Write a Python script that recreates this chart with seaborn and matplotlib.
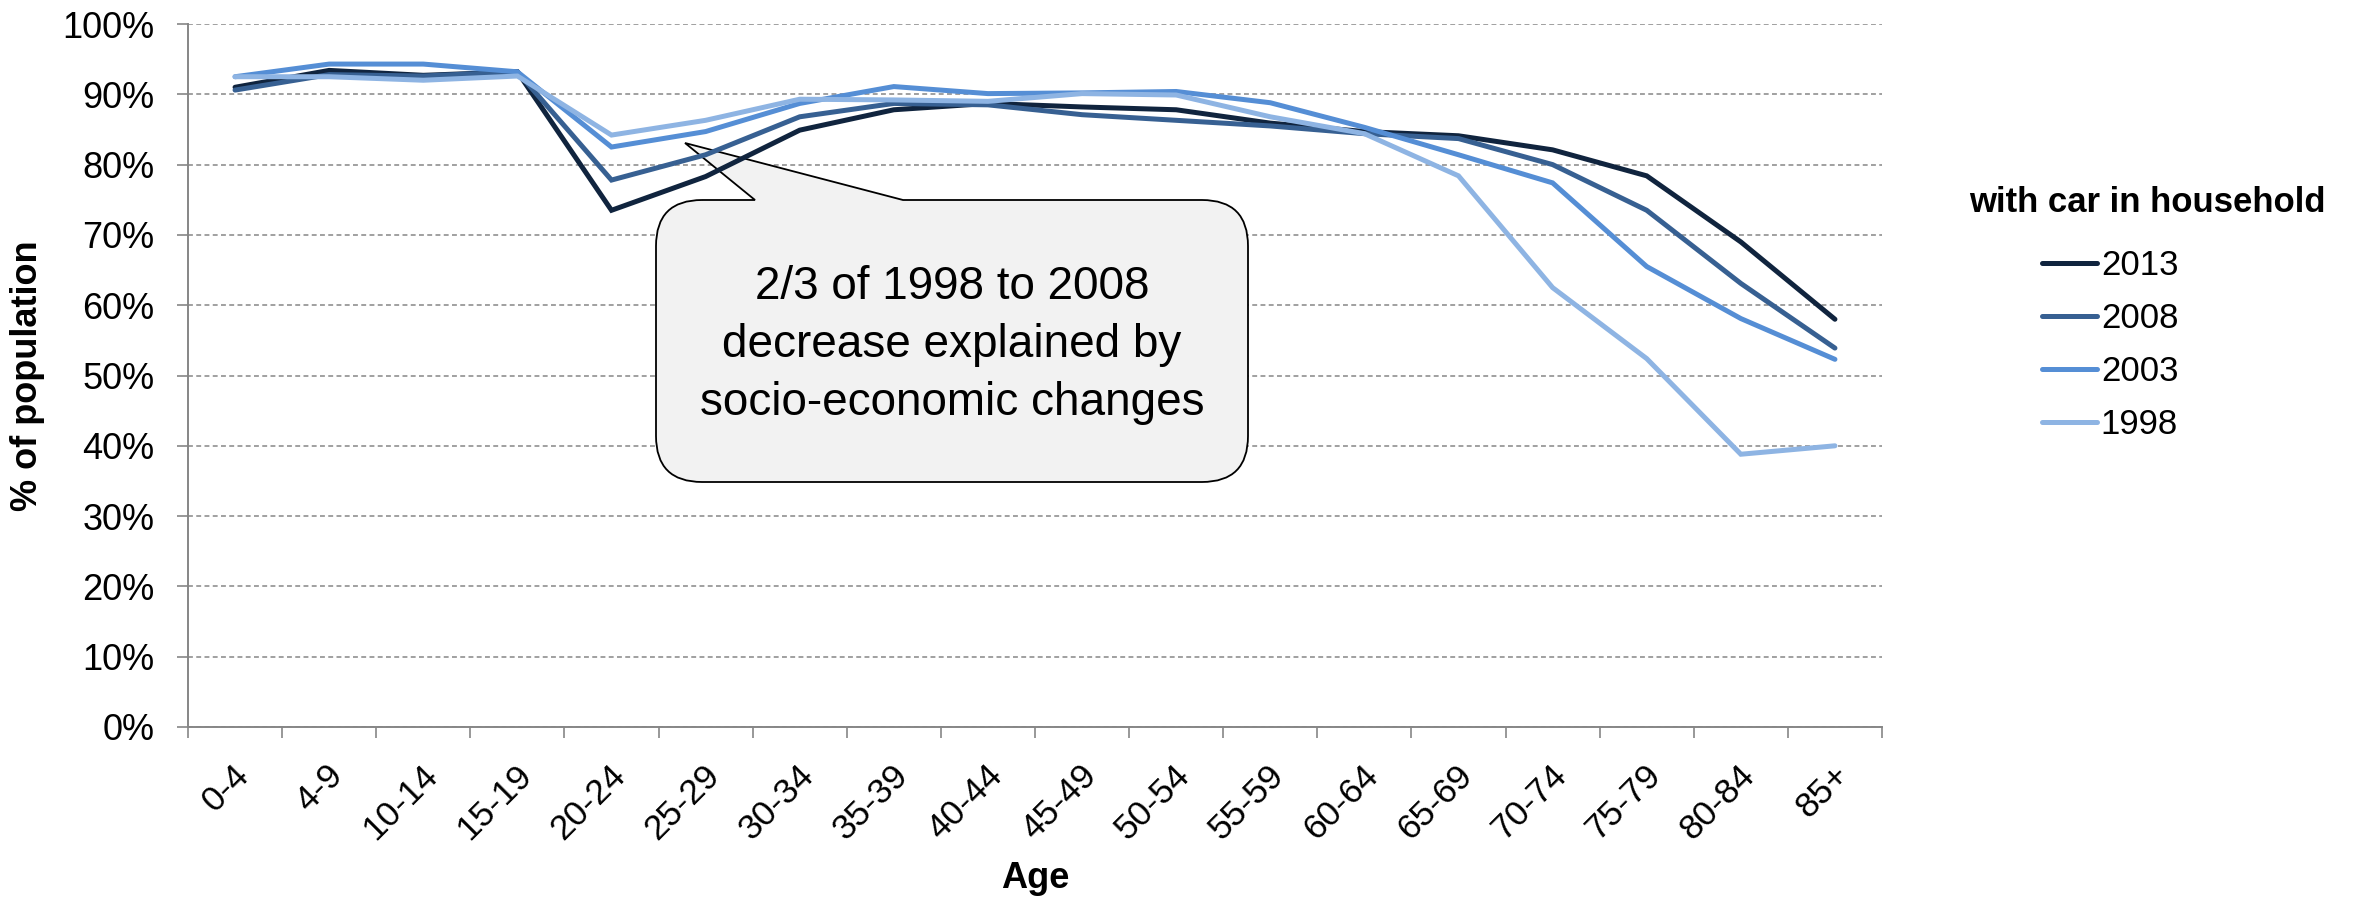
import matplotlib
matplotlib.use("Agg")
import matplotlib.pyplot as plt
import matplotlib.transforms as mtransforms
from matplotlib.path import Path
from matplotlib.patches import PathPatch
from matplotlib.ticker import FixedLocator, PercentFormatter
import numpy as np
import pandas as pd
import seaborn as sns

# ---- data ----
age_groups = ["0-4", "4-9", "10-14", "15-19", "20-24", "25-29", "30-34", "35-39",
              "40-44", "45-49", "50-54", "55-59", "60-64", "65-69", "70-74", "75-79",
              "80-84", "85+"]
years = ["2013", "2008", "2003", "1998"]
pct_2013 = [91.0, 93.4, 92.7, 93.2, 73.5, 78.3, 84.9, 87.8, 88.7, 88.2, 87.8, 85.9,
            84.7, 84.1, 82.1, 78.4, 69.0, 58.0]
pct_2008 = [90.6, 92.8, 92.6, 93.2, 77.8, 81.4, 86.8, 88.7, 88.5, 87.1, 86.3, 85.5,
            84.4, 83.7, 80.0, 73.5, 63.1, 53.9]
pct_2003 = [92.5, 94.3, 94.3, 93.2, 82.5, 84.7, 88.7, 91.1, 90.1, 90.2, 90.4, 88.8,
            85.3, 81.4, 77.4, 65.5, 58.1, 52.3]
pct_1998 = [92.5, 92.5, 92.0, 92.6, 84.2, 86.3, 89.3, 89.2, 89.0, 90.1, 89.9, 86.8,
            84.4, 78.4, 62.5, 52.4, 38.8, 40.0]
y_ticks = [0, 10, 20, 30, 40, 50, 60, 70, 80, 90, 100]
legend_title = "with car in household"
callout_text = "2/3 of 1998 to 2008\ndecrease explained by\nsocio-economic changes"

colors = {"2013": "#10243E", "2008": "#376092", "2003": "#558ED5", "1998": "#8EB4E3"}
axis_grey = "#868686"

df = pd.concat([
    pd.DataFrame({"age": age_groups, "pct": vals, "year": yr})
    for yr, vals in zip(years, [pct_2013, pct_2008, pct_2003, pct_1998])
], ignore_index=True)

sns.set_style("white")
plt.rcParams["font.family"] = ["Liberation Sans", "DejaVu Sans"]
plt.rcParams["text.color"] = "black"
plt.rcParams["axes.labelcolor"] = "black"

W, H = 2355, 899
fig = plt.figure(figsize=(W / 100, H / 100), dpi=100)
ax = fig.add_axes([188 / W, 1 - 727 / H, (1882 - 188) / W, (727 - 24) / H])

sns.lineplot(data=df, x="age", y="pct", hue="year", hue_order=years, palette=colors,
             sort=False, linewidth=3.6, ax=ax, zorder=5, legend=False)
for ln in ax.get_lines():
    ln.set_solid_capstyle("round")
    ln.set_solid_joinstyle("miter")

ax.set_xlim(-0.5, len(age_groups) - 0.5)
ax.set_ylim(0, 100)

# y axis
ax.yaxis.set_major_locator(FixedLocator(y_ticks))
ax.yaxis.set_major_formatter(PercentFormatter(decimals=0))
ax.tick_params(axis="y", direction="out", length=8, width=1.2, color=axis_grey,
               labelsize=26, labelcolor="black", pad=16, left=True)
ax.grid(axis="y", color=axis_grey, linestyle=(0, (3.2, 2.2)), linewidth=1.1, zorder=0)
ax.set_axisbelow(True)

# x axis: labels at centres, tick marks between categories
ax.set_xticks(range(len(age_groups)))
ax.set_xticks(np.arange(-0.5, len(age_groups), 1.0), minor=True)
ax.tick_params(axis="x", which="major", length=0, pad=31, labelsize=25.5,
               labelcolor="black")
ax.tick_params(axis="x", which="minor", direction="out", length=8, width=1.2,
               color=axis_grey, bottom=True)
offset = mtransforms.ScaledTranslation(0.09, 0, fig.dpi_scale_trans)
for lab in ax.get_xticklabels():
    lab.set_rotation(45)
    lab.set_ha("right")
    lab.set_va("center")
    lab.set_rotation_mode("anchor")
    lab.set_transform(lab.get_transform() + offset)

for s in ["top", "right"]:
    ax.spines[s].set_visible(False)
for s in ["left", "bottom"]:
    ax.spines[s].set_color(axis_grey)
    ax.spines[s].set_linewidth(1.4)

ax.set_xlabel("Age", fontsize=26, fontweight="bold")
ax.set_ylabel("% of population", fontsize=26, fontweight="bold")
ax.xaxis.set_label_coords(0.5, 1 - (878 - 24) / 703, transform=ax.transAxes)
ax.xaxis.label.set_va("center")
ax.yaxis.set_label_coords((27 - 188) / 1694, 0.5, transform=ax.transAxes)
ax.yaxis.label.set_va("center")

# legend (title placed separately to match the larger gap above the entries)
handles = [plt.Line2D([], [], color=colors[y], lw=3.6, solid_capstyle="round") for y in years]
fig.legend(handles, years, loc="center", bbox_to_anchor=(2110 / W, 1 - 345 / H),
           frameon=False, fontsize=25, handlelength=1.6, handletextpad=0.1,
           labelspacing=0.58)
fig.text(2147 / W, 1 - 202 / H, legend_title, ha="center", va="center",
         fontsize=25, fontweight="bold")

# callout shape (image pixel coords, y down)
pix = mtransforms.Affine2D().scale(1 / W, -1 / H).translate(0, 1) + fig.transFigure
x0, x1, y0, y1, r = 656, 1248, 200, 482, 46
verts = [
    (x0 + r, y0), (755, y0), (685, 143), (903, y0), (x1 - r, y0),
    (x1, y0), (x1, y0 + r),
    (x1, y1 - r),
    (x1, y1), (x1 - r, y1),
    (x0 + r, y1),
    (x0, y1), (x0, y1 - r),
    (x0, y0 + r),
    (x0, y0), (x0 + r, y0),
]
codes = [Path.MOVETO, Path.LINETO, Path.LINETO, Path.LINETO, Path.LINETO,
         Path.CURVE3, Path.CURVE3, Path.LINETO, Path.CURVE3, Path.CURVE3,
         Path.LINETO, Path.CURVE3, Path.CURVE3, Path.LINETO, Path.CURVE3, Path.CURVE3]
callout = PathPatch(Path(verts, codes), facecolor="#F2F2F2", edgecolor="black",
                    linewidth=1.3, transform=pix, zorder=2, clip_on=False)
ax.add_patch(callout)
ax.text((x0 + x1) / 2, 345, callout_text, transform=pix, ha="center", va="center",
        fontsize=33, linespacing=1.4, zorder=3)

fig.savefig("out.png", dpi=100)
